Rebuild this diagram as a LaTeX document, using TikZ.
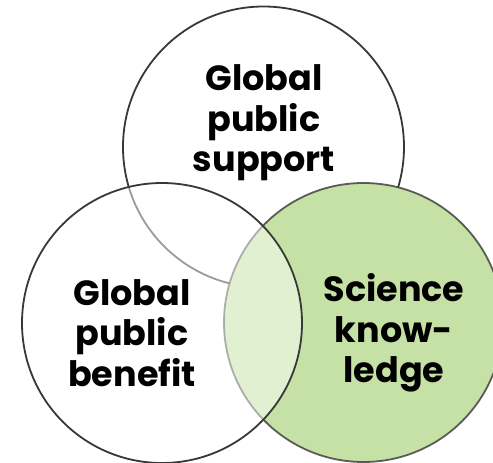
\documentclass[tikz,border=0pt]{standalone}
\usepackage{fontspec}
\setmainfont{Poppins}[UprightFont=* Bold]
\begin{document}
\begin{tikzpicture}[x=1pt,y=1pt,
  ring/.style={draw=black!78, line width=1.8pt},
  lbl/.style={align=center, font=\fontsize{35}{40.5}\selectfont, text=black}]
\useasboundingbox (0,0) rectangle (493,463);
\definecolor{sciencegreen}{HTML}{C5E1A5}
% top circle
\filldraw[ring, fill=white] (263.5,316) circle[radius=140.5];
% right circle
\path[fill=sciencegreen] (363.5,140.5) circle[radius=139.5];
\draw[ring, draw opacity=0.8] (363.5,140.5) circle[radius=139.5];
% left circle (semi-transparent white)
\path[fill=white, fill opacity=0.5] (162,140) circle[radius=140];
\draw[ring] (162,140) circle[radius=140];
\node[lbl] (support) at (264,340) {Global\\public\\support};
\node[lbl] (benefit) at (132,130) {Global\\public\\benefit};
\node[lbl] (science) at (394,130) {Science\\know-\\ledge};
\end{tikzpicture}
\end{document}
